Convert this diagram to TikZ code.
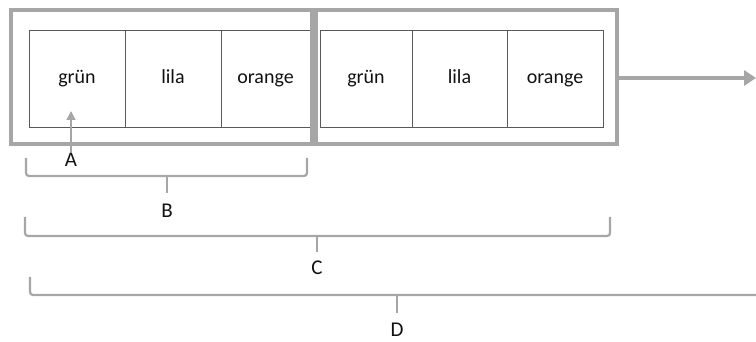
\documentclass[tikz,border=0pt]{standalone}
\usepackage{fontspec}
\setmainfont{Carlito}
\usetikzlibrary{arrows.meta}
\definecolor{boxgray}{HTML}{A6A6A6}
\definecolor{cellline}{HTML}{595959}
\definecolor{txt}{HTML}{111111}
\tikzset{
  cell/.style={draw=cellline, line width=0.8pt, minimum height=97pt, inner sep=0pt, text=txt, font=\fontsize{20}{22}\selectfont, text height=14pt, text depth=4pt},
  bigbox/.style={draw=boxgray, line width=4pt, minimum height=134pt, inner sep=0pt},
  bigarrow/.style={draw=boxgray, line width=4pt, -{Triangle[length=12pt,width=15pt]}},
  smallarrow/.style={draw=boxgray, line width=1.5pt, -{Triangle[length=9pt,width=9pt]}},
  bracepath/.style={draw=boxgray, line width=2.2pt, rounded corners=3pt},
  lab/.style={text=txt, font=\fontsize{21}{23}\selectfont, inner sep=1pt}
}
\begin{document}
\begin{tikzpicture}[x=1pt,y=-1pt]
\useasboundingbox (0,0) rectangle (756,342);
% first group
\node[cell, minimum width=96pt] (g1) at (77,79) {grün};
\node[cell, minimum width=96pt] (l1) at (173,79) {lila};
\node[cell, minimum width=89pt] (o1) at (265.5,79) {orange};
% second group
\node[cell, minimum width=92pt] (g2) at (366,79) {grün};
\node[cell, minimum width=95pt] (l2) at (459.5,79) {lila};
\node[cell, minimum width=96pt] (o2) at (555,79) {orange};
% thick boxes
\node[bigbox, minimum width=300.5pt] (b1) at (161.25,77) {};
\node[bigbox, minimum width=300.5pt] (b2) at (466.25,77) {};
% output arrow
\coordinate (aend) at (756,78);
\draw[bigarrow] (b2.east |- aend) -- (aend);
% A
\node[lab] (A) at (71,160) {A};
\coordinate (atip) at (71,111);
\draw[smallarrow] (A.north) -- (atip);
% braces
\draw[bracepath] (26,158) -- (26,176) -- (307,176) -- (307,158);
\draw[bracepath] (167,176) -- (167,193);
\node[lab] (B) at (167,211) {B};
\draw[bracepath] (25,217) -- (25,236) -- (610,236) -- (610,217);
\draw[bracepath] (317,236) -- (317,252);
\node[lab] (C) at (317,268) {C};
\draw[bracepath] (30,277) -- (30,295) -- (760,295);
\draw[bracepath] (397,295) -- (397,313);
\node[lab] (D) at (397,330) {D};
\end{tikzpicture}
\end{document}
